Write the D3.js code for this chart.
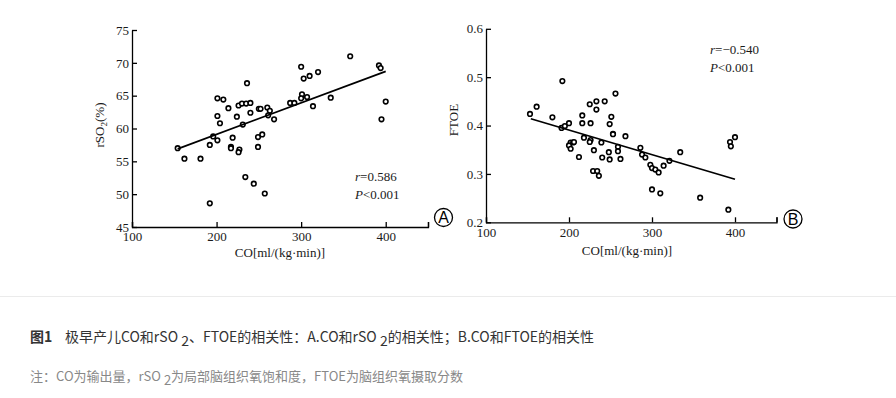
<!DOCTYPE html>
<html><head><meta charset="utf-8">
<script src="https://cdn.jsdelivr.net/npm/d3@7"></script>
<style>
html,body{margin:0;padding:0;background:#fff;}
svg{display:block;}
</style></head>
<body>
<svg id="c" width="896" height="398"></svg>
<script>
// ---- Data ----
// Panel A: CO vs rSO2
const coA = [154,162,181,192,192,196,201,201,208,201,204,214,219,217,217,227,226,224,226,230,235,240,236,231,240,234,244,257,249,249,254,250,252,260,263,261,268,287,292,301,300,307,300,303,310,320,314,335,358,392,394,400,395];
const rso2 = [57.0,55.4,55.4,48.6,57.5,58.8,58.2,64.6,64.4,61.9,60.8,63.1,58.6,57.2,57.0,56.8,56.4,61.8,63.5,63.8,63.8,63.9,66.9,60.6,62.4,52.6,51.6,50.1,57.2,58.7,59.1,63.0,63.0,63.2,62.7,62.0,61.4,63.9,63.9,65.2,64.6,64.8,69.4,67.6,68.0,68.6,63.4,64.7,71.0,69.6,69.2,64.1,61.4];
const fitA = [[154,56.9],[400,68.7]];
// Panel B: CO vs FTOE
const coB = [153,161,192,180,191,195,200,202,205,206,200,202,216,216,226,225,233,243,233,256,251,249,253,218,226,225,239,212,230,240,248,249,229,234,236,253,268,259,259,262,286,288,292,298,300,304,308,314,321,334,300,310,358,392,394,395,400];
const ftoe = [0.424,0.439,0.492,0.417,0.395,0.399,0.405,0.365,0.365,0.366,0.359,0.352,0.421,0.405,0.405,0.444,0.450,0.450,0.433,0.466,0.418,0.403,0.383,0.375,0.370,0.366,0.365,0.335,0.349,0.334,0.345,0.330,0.306,0.306,0.296,0.382,0.378,0.356,0.347,0.331,0.354,0.340,0.334,0.319,0.312,0.309,0.303,0.317,0.327,0.345,0.268,0.260,0.251,0.226,0.366,0.357,0.376];
const fitB = [[154,0.414],[400,0.289]];
// Tick labels
const xTicks = [100,200,300,400,450];
const xTickLabels = ["100","200","300","400",""];
const yTicksA = [45,50,55,60,65,70,75];
const yTicksB = [0.2,0.3,0.4,0.5,0.6];
const statsA = ["=0.586","<0.001"];
const statsB = ["=\u22120.540","<0.001"];
const captionMain = ["图1","极早产儿CO和rSO ","2","、FTOE的相关性：A.CO和rSO ","2","的相关性；B.CO和FTOE的相关性"];
const captionNote = ["注：CO为输出量，rSO ","2","为局部脑组织氧饱和度，FTOE为脑组织氧摄取分数"];

const svg = d3.select("#c");
const serif = "'Liberation Serif','DejaVu Serif',serif";
const sans = "'Noto Sans CJK SC','Noto Sans',sans-serif";

function panel(opts){
  const g = svg.append("g");
  const x = d3.scaleLinear().domain([100,450]).range([opts.x0, opts.x1]);
  const y = d3.scaleLinear().domain(opts.ydom).range([opts.y0, opts.y1]);
  const xa = d3.axisBottom(x).tickValues(xTicks).tickFormat((d,i)=>xTickLabels[i]).tickSize(-5).tickSizeOuter(-5).tickPadding(5);
  const gx = g.append("g").attr("transform",`translate(0,${opts.y0})`).call(xa);
  gx.selectAll("text").attr("dy","0.71em").attr("y",5);
  const ya = d3.axisLeft(y).tickValues(opts.yticks).tickFormat(opts.yfmt).tickSize(-5).tickSizeOuter(0).tickPadding(3);
  const gy = g.append("g").attr("transform",`translate(${opts.x0},0)`).call(ya);
  [gx,gy].forEach(a=>{
    a.selectAll("path,line").attr("stroke","#000").attr("stroke-width",1.3);
    a.selectAll("text").attr("font-family",serif).attr("font-size",13).attr("fill","#1a1a1a");
  });
  gy.selectAll("text").attr("x",-3);
  // points
  g.append("g").selectAll("circle").data(opts.xs.map((d,i)=>[d,opts.ys[i]])).join("circle")
    .attr("cx",d=>x(d[0])).attr("cy",d=>y(d[1])).attr("r",2.3)
    .attr("fill","#fff").attr("stroke","#000").attr("stroke-width",1.6);
  // fit line
  g.append("path").datum(opts.fit).attr("d",d3.line().x(d=>x(d[0])).y(d=>y(d[1])))
    .attr("stroke","#000").attr("stroke-width",1.7).attr("fill","none");
  // x label
  g.append("text").attr("x",opts.xlx).attr("y",opts.xly).attr("text-anchor","middle")
    .attr("font-family",serif).attr("font-size",13).attr("fill","#1a1a1a").text("CO[ml/(kg\u00b7min)]");
  // y label
  const yl = g.append("text").attr("transform",`translate(${opts.ylx},${opts.yly}) rotate(-90)`)
    .attr("text-anchor","middle").attr("font-family",serif).attr("font-size",13).attr("fill","#1a1a1a");
  opts.ylab(yl);
  // stats
  const st = g.append("g").attr("font-family",serif).attr("font-size",13).attr("fill","#1a1a1a");
  const t1 = st.append("text").attr("x",opts.sx).attr("y",opts.sy);
  t1.append("tspan").attr("font-style","italic").text("r");
  t1.append("tspan").text(opts.stats[0]);
  const t2 = st.append("text").attr("x",opts.sx).attr("y",opts.sy+18);
  t2.append("tspan").attr("font-style","italic").text("P");
  t2.append("tspan").text(opts.stats[1]);
  // badge
  g.append("circle").attr("cx",opts.bx).attr("cy",opts.by).attr("r",9).attr("fill","none").attr("stroke","#000").attr("stroke-width",1.3);
  g.append("text").attr("x",opts.bx).attr("y",opts.by+5.8).attr("text-anchor","middle")
    .attr("font-family","'Liberation Sans',Arial,sans-serif").attr("font-size",16).attr("fill","#000").text(opts.badge);
}

panel({x0:132,x1:428,y0:227,y1:30,ydom:[45,75],yticks:yTicksA,yfmt:d3.format("d"),
  xs:coA,ys:rso2,fit:fitA,xlx:280,xly:257,ylx:104,yly:125,
  ylab:t=>{t.append("tspan").text("rSO");t.append("tspan").attr("font-size",9).attr("dy",3).text("2");t.append("tspan").attr("dy",-3).text("(%)");},
  stats:statsA,sx:355,sy:181,bx:443.5,by:217.5,badge:"A"});

panel({x0:486,x1:776.5,y0:222.3,y1:28.8,ydom:[0.2,0.6],yticks:yTicksB,yfmt:d3.format(".1f"),
  xs:coB,ys:ftoe,fit:fitB,xlx:627,xly:255,ylx:458,yly:120,
  ylab:t=>{t.text("FTOE");},
  stats:statsB,sx:710,sy:54,bx:793,by:219,badge:"B"});

// separator
svg.append("line").attr("x1",0).attr("x2",896).attr("y1",296.5).attr("y2",296.5).attr("stroke","#ebebeb").attr("stroke-width",1);

// caption
const cap = svg.append("text").attr("x",30).attr("y",342).attr("font-family",sans).attr("font-size",14).attr("fill","#333");
cap.append("tspan").attr("font-weight","bold").text(captionMain[0]);
cap.append("tspan").attr("x",65).text(captionMain[1]);
cap.append("tspan").attr("dy",4).text(captionMain[2]);
cap.append("tspan").attr("dy",-4).text(captionMain[3]);
cap.append("tspan").attr("dy",4).text(captionMain[4]);
cap.append("tspan").attr("dy",-4).text(captionMain[5]);

const note = svg.append("text").attr("x",30).attr("y",381).attr("font-family",sans).attr("font-size",13).attr("fill","#888");
note.append("tspan").text(captionNote[0]);
note.append("tspan").attr("dy",4).text(captionNote[1]);
note.append("tspan").attr("dy",-4).text(captionNote[2]);
</script>
</body></html>
